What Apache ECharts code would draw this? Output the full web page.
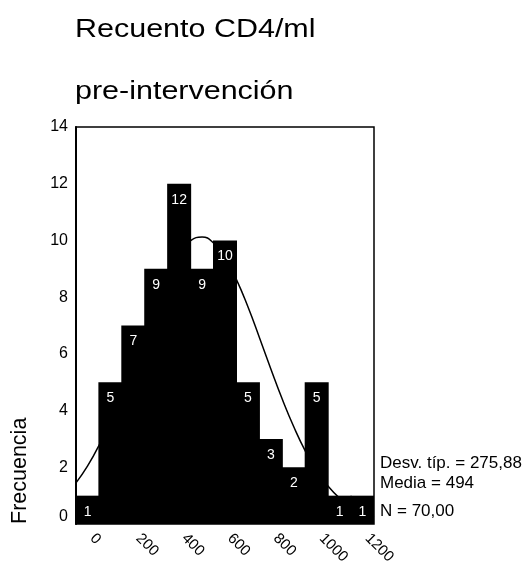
<!DOCTYPE html>
<html>
<head>
<meta charset="utf-8">
<script src="https://cdn.jsdelivr.net/npm/echarts@6/dist/echarts.min.js"></script>
<style>
  html, body { margin: 0; padding: 0; background: #fff; }
  #chart { width: 526px; height: 567px; }
</style>
</head>
<body>
<div id="chart"></div>
<script>
// Histogram bins (midpoints, width 100) and their counts
const binMidpoints = ['0', '100', '200', '300', '400', '500', '600', '700', '800', '900', '1000', '1100', '1200'];
const frequencies = [1, 5, 7, 9, 12, 9, 10, 5, 3, 2, 5, 1, 1];

// Fitted normal curve, sampled every 50 units
const curveX = [-50, 0, 50, 100, 150, 200, 250, 300, 350, 400, 450, 500, 550, 600,
                650, 700, 750, 800, 850, 900, 950, 1000, 1050, 1100, 1150, 1200, 1250];
const curveY = [1.45, 2.04, 2.77, 3.65, 4.65, 5.74, 6.84, 7.90, 8.83, 9.55, 9.99, 10.12, 9.91, 9.40,
                8.62, 7.66, 6.58, 5.47, 4.40, 3.43, 2.58, 1.88, 1.33, 0.91, 0.60, 0.38, 0.24];

// Axis range and summary statistics
const yMin = 0, yMax = 14, yStep = 2;
const xMin = -50, xMax = 1250;
const titleLines = ['Recuento CD4/ml', 'pre-intervención'];
const statLines = ['Desv. típ. = 275,88', 'Media = 494', 'N = 70,00'];
const yName = 'Frecuencia';

const FONT = "'Liberation Sans', Arial, Helvetica, sans-serif";
const chart = echarts.init(document.getElementById('chart'), null, { renderer: 'canvas' });

const curveData = curveX.map((x, i) => [x, curveY[i]]);

chart.setOption({
  animation: false,
  backgroundColor: '#fff',
  grid: {
    left: 76, right: 152, top: 127, bottom: 42,
    show: true, borderColor: '#000', borderWidth: 1.5, backgroundColor: 'transparent'
  },
  xAxis: [
    {
      type: 'category',
      data: binMidpoints,
      boundaryGap: true,
      axisLine: { show: false },
      axisTick: { show: false },
      splitLine: { show: false },
      axisLabel: {
        interval: 1,
        rotate: -45,
        margin: 7,
        padding: [0, 0, 0, 7],
        color: '#000',
        fontFamily: FONT,
        fontSize: 15
      }
    },
    {
      type: 'value',
      min: xMin, max: xMax,
      show: false
    }
  ],
  yAxis: {
    type: 'value',
    min: yMin, max: yMax, interval: yStep,
    axisLine: { show: true, onZero: false, lineStyle: { color: '#000', width: 2 } },
    axisTick: { show: false },
    splitLine: { show: false },
    axisLabel: {
      color: '#000', fontFamily: FONT, fontSize: 16, margin: 8,
      // the zero label sits a little above the baseline, clear of the x labels
      formatter: v => (v === 0 ? '{zero|0}' : String(v)),
      rich: { zero: { fontFamily: FONT, fontSize: 16, color: '#000', padding: [0, 0, 15, 0] } }
    }
  },
  series: [
    {
      type: 'line',
      xAxisIndex: 1,
      data: curveData,
      smooth: true,
      showSymbol: false,
      lineStyle: { color: '#000', width: 1.5 },
      z: 1
    },
    {
      type: 'bar',
      xAxisIndex: 0,
      data: frequencies,
      // slightly wider than a category so neighbouring bars overlap without seams
      barWidth: 24,
      barGap: '-100%',
      itemStyle: { color: '#000' },
      label: {
        show: true,
        position: 'insideTop',
        distance: 9,
        color: '#fff',
        fontFamily: FONT,
        fontSize: 14
      },
      z: 2
    }
  ],
  graphic: [
    { type: 'text', x: 75, y: 16, scaleX: 1.15, style: { text: titleLines[0], fill: '#000', font: `26.5px ${FONT}` } },
    { type: 'text', x: 75, y: 78, scaleX: 1.15, style: { text: titleLines[1], fill: '#000', font: `26.5px ${FONT}` } },
    { type: 'text', left: 380, top: 455, style: { text: statLines[0], fill: '#000', font: `17px ${FONT}` } },
    { type: 'text', left: 380, top: 475, style: { text: statLines[1], fill: '#000', font: `17px ${FONT}` } },
    { type: 'text', left: 380, top: 503, style: { text: statLines[2], fill: '#000', font: `17px ${FONT}` } },
    {
      type: 'text', x: 9, y: 524, rotation: Math.PI / 2,
      style: { text: yName, fill: '#000', font: `21.5px ${FONT}` }
    }
  ]
});
</script>
</body>
</html>
